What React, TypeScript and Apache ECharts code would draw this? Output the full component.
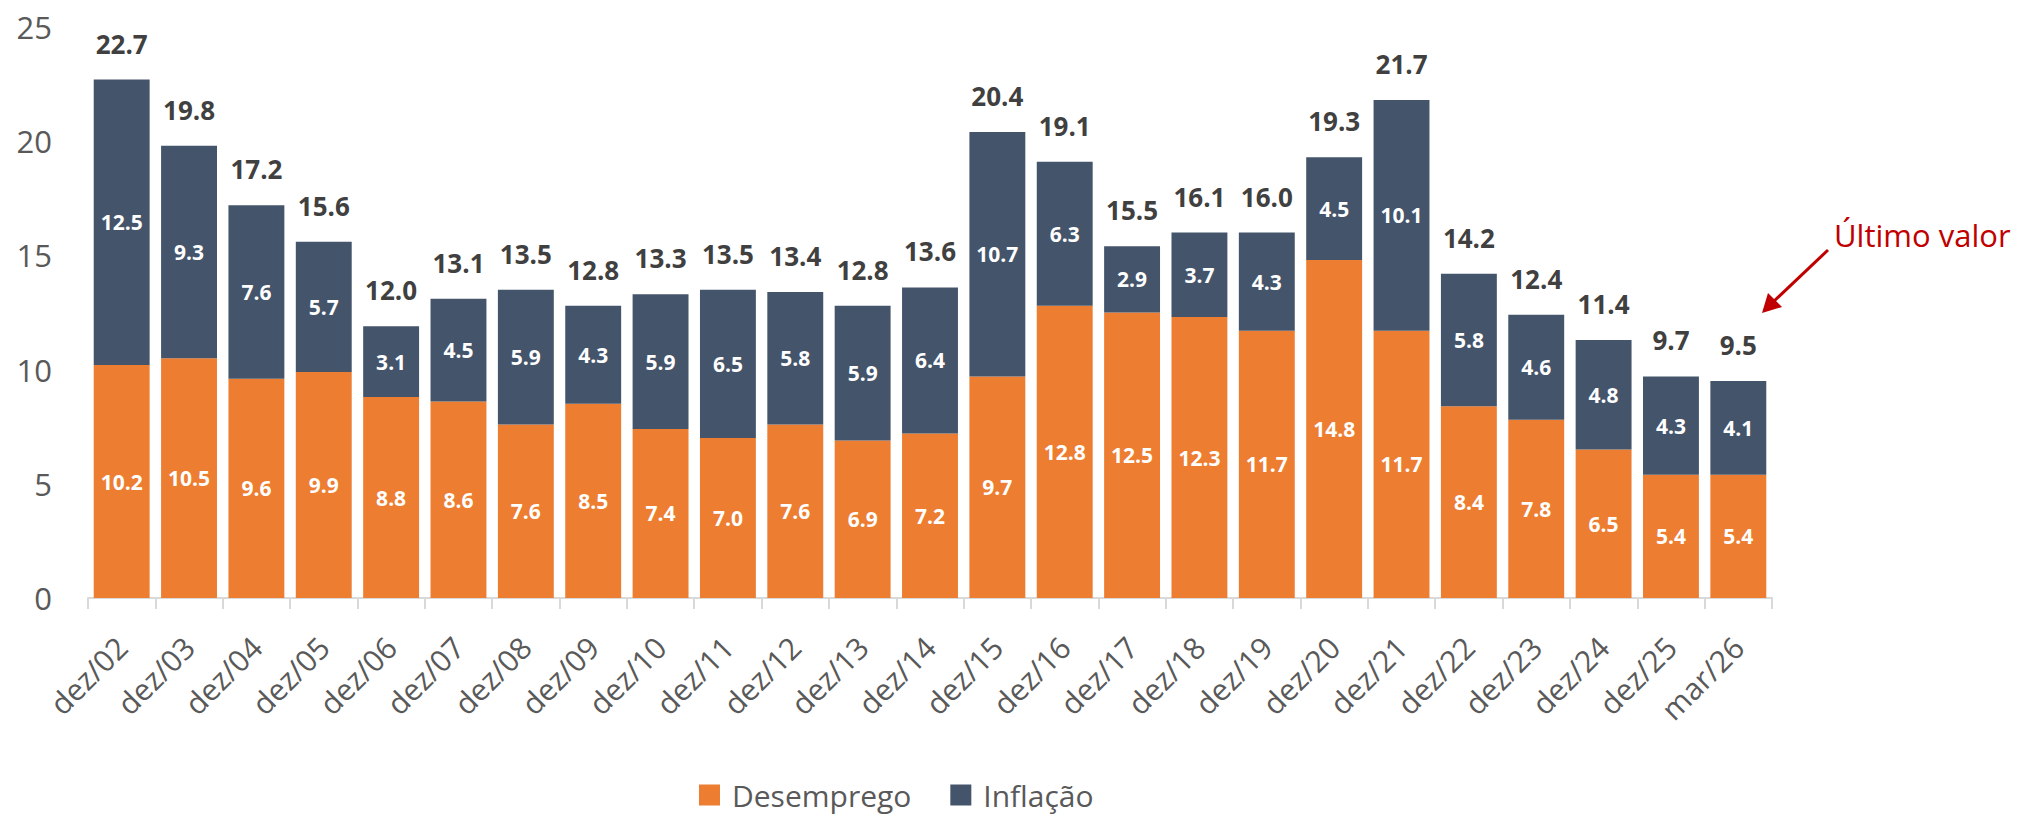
import React, { useEffect, useRef } from "react";
import * as echarts from "echarts";

const categories = [
  "dez/02", "dez/03", "dez/04", "dez/05", "dez/06", "dez/07", "dez/08", "dez/09",
  "dez/10", "dez/11", "dez/12", "dez/13", "dez/14", "dez/15", "dez/16", "dez/17",
  "dez/18", "dez/19", "dez/20", "dez/21", "dez/22", "dez/23", "dez/24", "dez/25", "mar/26",
];
const desemprego = [10.2, 10.5, 9.6, 9.9, 8.8, 8.6, 7.6, 8.5, 7.4, 7.0, 7.6, 6.9, 7.2, 9.7, 12.8, 12.5, 12.3, 11.7, 14.8, 11.7, 8.4, 7.8, 6.5, 5.4, 5.4];
const inflacao = [12.5, 9.3, 7.6, 5.7, 3.1, 4.5, 5.9, 4.3, 5.9, 6.5, 5.8, 5.9, 6.4, 10.7, 6.3, 2.9, 3.7, 4.3, 4.5, 10.1, 5.8, 4.6, 4.8, 4.3, 4.1];
const totals = [22.7, 19.8, 17.2, 15.6, 12.0, 13.1, 13.5, 12.8, 13.3, 13.5, 13.4, 12.8, 13.6, 20.4, 19.1, 15.5, 16.1, 16.0, 19.3, 21.7, 14.2, 12.4, 11.4, 9.7, 9.5];
const yTicks = { min: 0, max: 25, interval: 5 };

const FONT = "'Open Sans', 'Noto Sans', sans-serif";

export default function App() {
  const ref = useRef<HTMLDivElement>(null);
  useEffect(() => {
    if (!ref.current) return;
    const chart = echarts.init(ref.current, null, { renderer: "svg" });
    chart.setOption({
      animation: false,
      backgroundColor: "#ffffff",
      textStyle: { fontFamily: FONT },
      grid: { left: 88, right: 254, top: 27, bottom: 217, containLabel: false },
      legend: {
        left: 694,
        top: 775,
        itemWidth: 21,
        itemHeight: 21,
        itemGap: 39,
        icon: "rect",
        textStyle: { fontSize: 30, color: "#595959", fontFamily: FONT, padding: [0, 0, 0, 7] },
        data: ["Desemprego", "Inflação"],
      },
      xAxis: {
        type: "category",
        data: categories,
        axisLine: { lineStyle: { color: "#D9D9D9", width: 2 } },
        axisTick: { show: true, length: 11, lineStyle: { color: "#D9D9D9", width: 2 } },
        axisLabel: { rotate: 45, fontSize: 30, color: "#595959", margin: 44, fontFamily: FONT, interval: 0 },
      },
      yAxis: {
        type: "value",
        min: yTicks.min,
        max: yTicks.max,
        interval: yTicks.interval,
        axisLine: { show: false },
        axisTick: { show: false },
        splitLine: { show: false },
        axisLabel: { fontSize: 31, color: "#595959", margin: 36, fontFamily: FONT },
      },
      series: [
        {
          name: "Desemprego",
          type: "bar",
          stack: "total",
          data: desemprego,
          barCategoryGap: "17%",
          itemStyle: { color: "#ED7D31" },
          label: {
            show: true,
            position: "inside",
            color: "#ffffff",
            fontWeight: "bold",
            fontSize: 21,
            fontFamily: FONT,
            formatter: (p: any) => p.value.toFixed(1),
          },
        },
        {
          name: "Inflação",
          type: "bar",
          stack: "total",
          data: inflacao,
          itemStyle: { color: "#44546A" },
          label: {
            show: true,
            position: "inside",
            color: "#ffffff",
            fontWeight: "bold",
            fontSize: 21,
            fontFamily: FONT,
            formatter: (p: any) => p.value.toFixed(1),
          },
        },
        {
          name: "Total",
          type: "bar",
          stack: "total",
          data: totals.map(() => 0),
          itemStyle: { color: "transparent" },
          label: {
            show: true,
            position: "top",
            distance: 23,
            color: "#404040",
            fontWeight: "bold",
            fontSize: 26,
            fontFamily: FONT,
            formatter: (p: any) => totals[p.dataIndex].toFixed(1),
          },
        },
      ],
      graphic: [
        {
          type: "text",
          left: 1834,
          top: 219,
          style: { text: "Último valor", fontSize: 31, fill: "#C00000", fontFamily: FONT },
        },
        {
          type: "line",
          shape: { x1: 1828, y1: 250, x2: 1772, y2: 303 },
          style: { stroke: "#C00000", lineWidth: 3 },
        },
        {
          type: "polygon",
          shape: { points: [[1762, 313], [1768, 293], [1782, 307]] },
          style: { fill: "#C00000" },
        },
      ],
    });
    return () => chart.dispose();
  }, []);
  return <div ref={ref} style={{ position: "absolute", left: 0, top: 0, width: 2026, height: 815 }} />;
}
